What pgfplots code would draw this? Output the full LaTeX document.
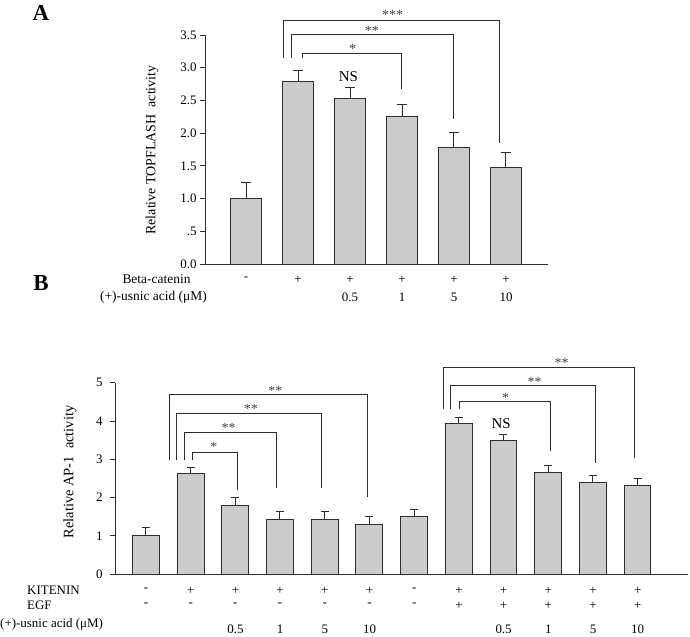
\documentclass[border=0pt]{standalone}
\usepackage{pgfplots}
\pgfplotsset{compat=1.18}
\usepackage{fontspec}
\setmainfont{Liberation Serif}
\definecolor{barfill}{RGB}{204,204,204}
\definecolor{edge}{RGB}{45,45,45}
\newcommand\fs[1]{\fontsize{#1}{#1}\selectfont}
\pgfplotstableread{
x y e
0 1.00 0.25
1 2.79 0.17
2 2.53 0.17
3 2.26 0.18
4 1.78 0.23
5 1.48 0.23
}\dataA
\pgfplotstableread{
x y e
0 1.00 0.22
1 2.63 0.16
2 1.80 0.20
3 1.43 0.21
4 1.43 0.21
5 1.30 0.21
6 1.50 0.19
7 3.93 0.17
8 3.49 0.16
9 2.66 0.17
10 2.40 0.18
11 2.32 0.18
}\dataB
\begin{document}
\begin{tikzpicture}[x=1bp,y=1bp]
\path (0,0) rectangle (690,636);
% ---------------- Panel A
\begin{axis}[
  at={(205bp,372bp)}, anchor=south west,
  scale only axis, width=343bp, height=229bp,
  xmin=-0.79, xmax=5.81, ymin=0, ymax=3.5,
  axis x line=bottom, axis y line=left,
  axis line style={-, line width=0.8bp, edge},
  xtick=\empty, ytick={0,0.5,...,3.5},
  yticklabels={0.0,.5,1.0,1.5,2.0,2.5,3.0,3.5},
  tick align=outside, major tick length=5bp,
  tick style={edge, line width=0.8bp},
  ticklabel style={font=\fs{13}},
  clip=false, ybar, bar width=0.6,
]
\addplot[ybar, fill=barfill, draw=edge, line width=0.9bp,
  error bars/.cd, y dir=plus, y explicit,
  error bar style={edge, line width=0.9bp},
  error mark options={edge, mark size=5bp, line width=0.9bp, rotate=90}]
  table[x=x, y=y, y error=e] {\dataA};
\draw[edge, line width=1bp] (axis cs:1.08,3.15) -- (axis cs:1.08,3.21) -- (axis cs:3.0,3.21) -- (axis cs:3.0,2.68);
\draw[edge, line width=1bp] (axis cs:0.88,3.15) -- (axis cs:0.88,3.50) -- (axis cs:4.0,3.50) -- (axis cs:4.0,2.22);
\draw[edge, line width=1bp] (axis cs:0.73,3.15) -- (axis cs:0.73,3.72) -- (axis cs:4.88,3.72) -- (axis cs:4.88,1.85);
\node[font=\fs{14}, text=black!75] at (axis cs:2.05,3.29) {*};
\node[font=\fs{14}, text=black!75] at (axis cs:2.42,3.56) {**};
\node[font=\fs{14}, text=black!75] at (axis cs:2.82,3.81) {***};
\node[font=\fs{15}] at (axis cs:1.97,2.87) {NS};
\end{axis}
% ---------------- Panel B
\begin{axis}[
  at={(115bp,62bp)}, anchor=south west,
  scale only axis, width=573bp, height=191.3bp,
  xmin=-0.69, xmax=12.13, ymin=0, ymax=5,
  axis x line=bottom, axis y line=left,
  axis line style={-, line width=0.8bp, edge},
  xtick=\empty, ytick={0,1,2,3,4,5},
  yticklabels={0,1,2,3,4,5},
  tick align=outside, major tick length=5bp,
  tick style={edge, line width=0.8bp},
  ticklabel style={font=\fs{13}},
  yticklabel style={xshift=-4bp},
  clip=false, ybar, bar width=0.6,
]
\addplot[ybar, fill=barfill, draw=edge, line width=0.9bp,
  error bars/.cd, y dir=plus, y explicit,
  error bar style={edge, line width=0.9bp},
  error mark options={edge, mark size=4bp, line width=0.9bp, rotate=90}]
  table[x=x, y=y, y error=e] {\dataB};
\draw[edge, line width=1bp] (axis cs:1.04,2.99) -- (axis cs:1.04,3.17) -- (axis cs:2.06,3.17) -- (axis cs:2.06,2.19);
\draw[edge, line width=1bp] (axis cs:0.87,2.99) -- (axis cs:0.87,3.69) -- (axis cs:2.92,3.69) -- (axis cs:2.92,2.25);
\draw[edge, line width=1bp] (axis cs:0.69,2.99) -- (axis cs:0.69,4.19) -- (axis cs:3.94,4.19) -- (axis cs:3.94,2.25);
\draw[edge, line width=1bp] (axis cs:0.53,2.99) -- (axis cs:0.53,4.70) -- (axis cs:4.97,4.70) -- (axis cs:4.97,2.00);
\draw[edge, line width=1bp] (axis cs:7.01,4.30) -- (axis cs:7.01,4.52) -- (axis cs:9.05,4.52) -- (axis cs:9.05,3.22);
\draw[edge, line width=1bp] (axis cs:6.81,4.30) -- (axis cs:6.81,4.93) -- (axis cs:10.07,4.93) -- (axis cs:10.07,2.91);
\draw[edge, line width=1bp] (axis cs:6.67,4.30) -- (axis cs:6.67,5.40) -- (axis cs:10.94,5.40) -- (axis cs:10.94,3.02);
\node[font=\fs{14}, text=black!75] at (axis cs:1.52,3.32) {*};
\node[font=\fs{14}, text=black!75] at (axis cs:1.85,3.82) {**};
\node[font=\fs{14}, text=black!75] at (axis cs:2.35,4.32) {**};
\node[font=\fs{14}, text=black!75] at (axis cs:2.90,4.79) {**};
\node[font=\fs{14}, text=black!75] at (axis cs:8.05,4.59) {*};
\node[font=\fs{14}, text=black!75] at (axis cs:8.70,5.01) {**};
\node[font=\fs{14}, text=black!75] at (axis cs:9.30,5.51) {**};
\node[font=\fs{15}] at (axis cs:7.95,3.92) {NS};
\end{axis}
% ---------------- text, panel A
\node[font=\bfseries\fs{23}] at (41,623.5) {A};
\node[font=\bfseries\fs{23}] at (41,353) {B};
\node[font=\fs{14}, rotate=90] at (152,486) {Relative TOPFLASH\ \ activity};
\node[font=\fs{13.5}, anchor=east] at (194,357) {Beta-catenin};
\node[font=\fs{13.5}, anchor=east, inner sep=0pt] at (207,339) {(+)-usnic acid (μM)};
\node[font=\fs{13}] at (246,357.5) {-};
\node[font=\fs{13}] at (298,356) {+};
\node[font=\fs{13}] at (350,356) {+};
\node[font=\fs{13}] at (402,356) {+};
\node[font=\fs{13}] at (454,356) {+};
\node[font=\fs{13}] at (506,356) {+};
\node[font=\fs{13}] at (350,339) {0.5};
\node[font=\fs{13}] at (402,339) {1};
\node[font=\fs{13}] at (454,339) {5};
\node[font=\fs{13}] at (506,339) {10};
% ---------------- text, panel B
\node[font=\fs{14.5}, rotate=90] at (70,164) {Relative AP-1\ \ activity};
\node[font=\fs{13}, anchor=west, inner sep=0pt] at (27,45.3) {KITENIN};
\node[font=\fs{13}, anchor=west, inner sep=0pt] at (27,30.3) {EGF};
\node[font=\fs{13}, anchor=west, inner sep=0pt] at (0,12) {(+)-usnic acid (μM)};
% row 1
\node[font=\fs{13}] at (146.0,46.5) {-};
\node[font=\fs{13}] at (190.7,45.3) {+};
\node[font=\fs{13}] at (235.4,45.3) {+};
\node[font=\fs{13}] at (280.1,45.3) {+};
\node[font=\fs{13}] at (324.8,45.3) {+};
\node[font=\fs{13}] at (369.5,45.3) {+};
\node[font=\fs{13}] at (414.2,46.5) {-};
\node[font=\fs{13}] at (458.9,45.3) {+};
\node[font=\fs{13}] at (503.6,45.3) {+};
\node[font=\fs{13}] at (548.3,45.3) {+};
\node[font=\fs{13}] at (593.0,45.3) {+};
\node[font=\fs{13}] at (637.7,45.3) {+};
% row 2
\node[font=\fs{13}] at (146.0,31.5) {-};
\node[font=\fs{13}] at (190.7,31.5) {-};
\node[font=\fs{13}] at (235.4,31.5) {-};
\node[font=\fs{13}] at (280.1,31.5) {-};
\node[font=\fs{13}] at (324.8,31.5) {-};
\node[font=\fs{13}] at (369.5,31.5) {-};
\node[font=\fs{13}] at (414.2,31.5) {-};
\node[font=\fs{13}] at (458.9,30.3) {+};
\node[font=\fs{13}] at (503.6,30.3) {+};
\node[font=\fs{13}] at (548.3,30.3) {+};
\node[font=\fs{13}] at (593.0,30.3) {+};
\node[font=\fs{13}] at (637.7,30.3) {+};
% row 3
\node[font=\fs{13}] at (235.4,7) {0.5};
\node[font=\fs{13}] at (280.1,7) {1};
\node[font=\fs{13}] at (324.8,7) {5};
\node[font=\fs{13}] at (369.5,7) {10};
\node[font=\fs{13}] at (503.6,7) {0.5};
\node[font=\fs{13}] at (548.3,7) {1};
\node[font=\fs{13}] at (593.0,7) {5};
\node[font=\fs{13}] at (637.7,7) {10};
\end{tikzpicture}
\end{document}
